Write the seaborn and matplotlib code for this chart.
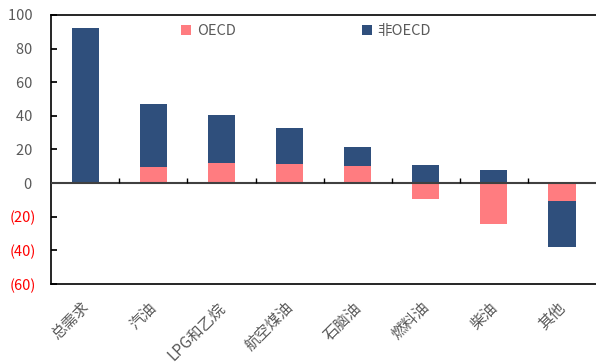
import numpy as np
import pandas as pd
import matplotlib
matplotlib.use('Agg')
import matplotlib.pyplot as plt
import matplotlib.transforms as mtransforms
import seaborn as sns

# data
categories = ['总需求', '汽油', 'LPG和乙烷', '航空煤油', '石脑油', '燃料油', '柴油', '其他']
oecd = [0.0, 9.5, 11.7, 11.1, 10.1, -9.5, -24.6, -10.5]
non_oecd = [92.0, 37.7, 28.8, 21.9, 11.5, 10.7, 7.7, -27.8]
yticks = [100, 80, 60, 40, 20, 0, -20, -40, -60]

oecd_color = '#FF7C80'
non_oecd_color = '#2F4F7C'
grey = '#595959'

sns.set_theme(style='white')
plt.rcParams['font.family'] = ['Noto Sans CJK SC', 'DejaVu Sans']

df = pd.DataFrame({'cat': categories, 'oecd': oecd, 'non_oecd': non_oecd})
# blue bar envelope: stacked on OECD when both share a sign
df['blue_top'] = np.where(np.sign(df['oecd']) == np.sign(df['non_oecd']),
                          df['oecd'] + df['non_oecd'], df['non_oecd'])

fig = plt.figure(figsize=(5.96, 3.64), dpi=100)
ax = fig.add_axes([0.086, 0.22, 0.914, 0.739])

sns.barplot(data=df, x='cat', y='blue_top', color=non_oecd_color, saturation=1,
            width=0.4, ax=ax, label='非OECD', linewidth=0)
sns.barplot(data=df, x='cat', y='oecd', color=oecd_color, saturation=1,
            width=0.4, ax=ax, label='OECD', linewidth=0)

ax.set_xlim(-0.5, len(categories) - 0.5)
ax.set_ylim(-60, 100)
ax.set_yticks(yticks)
ax.set_yticklabels([f'{v} ' if v >= 0 else f'({-v})' for v in yticks])
for lab, v in zip(ax.get_yticklabels(), yticks):
    lab.set_color('#FF0000' if v < 0 else grey)
    lab.set_fontsize(10.5)

ax.set_xticks(range(len(categories)))
ax.set_xticklabels(categories, rotation=45, ha='right', va='top',
                   rotation_mode='anchor', color=grey, fontsize=11)
ax.tick_params(axis='x', length=0, pad=11)
ax.tick_params(axis='y', direction='in', length=4, color='black', left=True, pad=11)
# nudge the rotated labels a little to the left
shift = mtransforms.ScaledTranslation(-5 / 100, 0, fig.dpi_scale_trans)
for lab in ax.get_xticklabels():
    lab.set_transform(lab.get_transform() + shift)
ax.set_xlabel('')
ax.set_ylabel('')

# zero line with category separator ticks
ax.axhline(0, color='#404040', lw=1.5, zorder=3)
ax.vlines(np.arange(len(categories) - 1) + 0.5, 0, 3, color='black', lw=1, zorder=3)

for side in ['left', 'top', 'bottom']:
    ax.spines[side].set_visible(True)
    ax.spines[side].set_color('black')
    ax.spines[side].set_linewidth(1.2)
ax.spines['right'].set_visible(False)

handles, labels = ax.get_legend_handles_labels()
order = [labels.index('OECD'), labels.index('非OECD')]
ax.legend([handles[i] for i in order], [labels[i] for i in order],
          ncol=2, loc='center', bbox_to_anchor=(0.468, 0.94), frameon=False,
          columnspacing=8.6, handlelength=0.7, handleheight=0.7, handletextpad=0.4,
          fontsize=10.5, labelcolor=grey)

fig.savefig('out.png', dpi=100)
